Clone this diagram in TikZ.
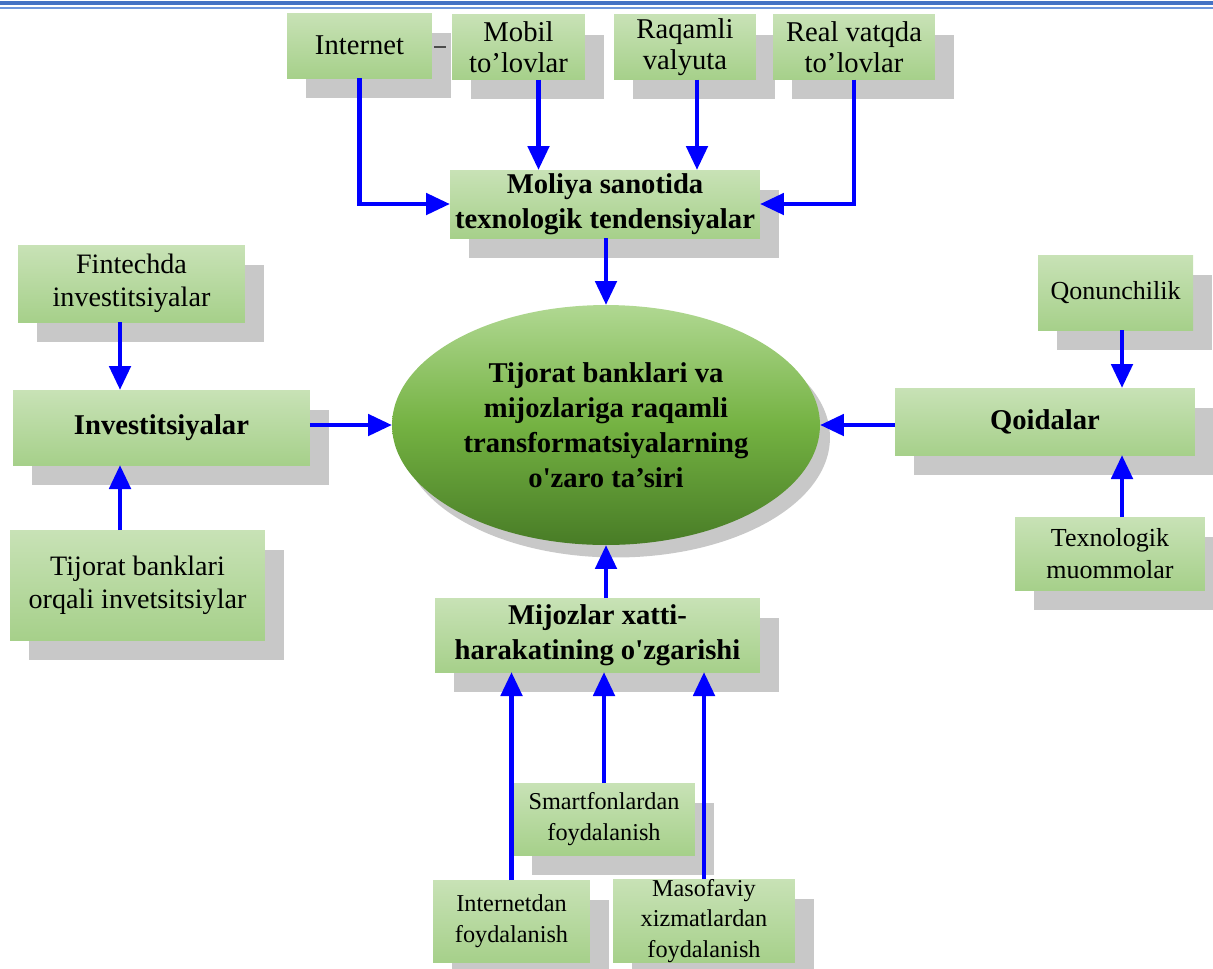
\documentclass[tikz,border=0pt]{standalone}
\usepackage{fontspec}
\setmainfont{Liberation Serif}
\usetikzlibrary{arrows.meta,shapes.geometric,shadows}
\definecolor{gtop}{RGB}{200,226,182}
\definecolor{gbot}{RGB}{166,208,138}
\definecolor{elltop}{RGB}{176,216,146}
\definecolor{ellmid}{RGB}{116,178,66}
\definecolor{ellbot}{RGB}{72,124,38}
\definecolor{shade}{RGB}{200,200,200}
\definecolor{hdr}{RGB}{68,114,196}
\definecolor{hdrlight}{RGB}{110,150,220}
\tikzset{
  gbox/.style={rectangle,inner sep=0pt,outer sep=0pt,align=center,
    top color=gtop,bottom color=gbot,
    drop shadow={shadow xshift=0.38cm,shadow yshift=-0.4cm,fill=shade,opacity=1}},
  rtxt/.style={font=\fontsize{16}{19}\selectfont},
  mtxt/.style={font=\fontsize{14.8}{18.5}\selectfont},
  ttxt/.style={font=\fontsize{16.3}{17.5}\selectfont},
  stxt/.style={font=\fontsize{13.8}{17.5}\selectfont},
  btxt/.style={font=\fontsize{16.3}{20}\selectfont\bfseries},
  arr/.style={draw=blue,line width=2.8pt,-{Triangle[length=0.48cm,width=0.42cm]}}
}
\newcommand{\gbox}[6]{\node[gbox,#6,minimum width=#3cm,minimum height=#4cm] (#1) at (#2) {#5};}

\begin{document}
\begin{tikzpicture}[x=0.02cm,y=-0.02cm]
	\useasboundingbox (0,0) rectangle (1213,968);
	\fill[hdr] (0,1) rectangle (1213,5);
	\fill[hdrlight] (0,7) rectangle (1213,9);
	% top row
	\gbox{inet}{359.5,45.5}{2.9}{1.3}{Internet}{ttxt}
	\gbox{mobil}{518.5,47}{2.66}{1.3}{Mobil\\to’lovlar}{ttxt}
	\gbox{raqam}{685,47}{2.84}{1.3}{Raqamli\\valyuta}{ttxt}
	\gbox{real}{854,47}{3.24}{1.3}{Real vatqda\\to’lovlar}{ttxt}
	\draw[black!70,line width=1.6pt] ([xshift=0.04cm]inet.east |- 0,47) -- ([xshift=-0.12cm]mobil.west |- 0,47);
	\gbox{moliya}{605,204}{6.2}{1.36}{Moliya sanotida\\texnologik tendensiyalar}{btxt}
	% centre
	\node[ellipse,inner sep=0pt,outer sep=0pt,minimum width=8.56cm,minimum height=4.8cm,align=center,
	  top color=elltop,bottom color=ellbot,middle color=ellmid,btxt,
	  drop shadow={shadow xshift=0.2cm,shadow yshift=-0.25cm,fill=shade,opacity=1}]
	  (ell) at (606,425) {Tijorat banklari va\\mijozlariga raqamli\\transformatsiyalarning\\o\textquotesingle zaro ta’siri};
	% left
	\gbox{fintech}{131.5,283.5}{4.54}{1.54}{Fintechda\\investitsiyalar}{rtxt}
	\gbox{invest}{161.5,427.5}{5.94}{1.5}{Investitsiyalar}{btxt}
	\gbox{tijorat}{137.5,585}{5.1}{2.2}{Tijorat banklari\\orqali invetsitsiylar}{rtxt}
	% right
	\gbox{qonun}{1115.5,292.5}{3.1}{1.5}{Qonunchilik}{mtxt}
	\gbox{qoida}{1045,421.5}{6.0}{1.34}{Qoidalar}{btxt}
	\gbox{texno}{1110,553.5}{3.8}{1.46}{Texnologik\\muommolar}{mtxt}
	% bottom
	\gbox{mijoz}{597.5,635}{6.5}{1.48}{Mijozlar xatti-\\harakatining o\textquotesingle zgarishi}{btxt}
	\gbox{smart}{604,819}{3.64}{1.44}{Smartfonlardan\\foydalanish}{stxt}
	\gbox{inetf}{511.5,921}{3.14}{1.64}{Internetdan\\foydalanish}{stxt}
	\gbox{masof}{704,921}{3.64}{1.64}{Masofaviy\\xizmatlardan\\foydalanish}{stxt}
	% arrows
	\draw[arr] (inet.south) |- (moliya.west);
	\draw[arr] (real.south) |- (moliya.east);
	\draw[arr] ([xshift=0.4cm]mobil.south) -- ([xshift=0.4cm]mobil.south |- moliya.north);
	\draw[arr] ([xshift=0.24cm]raqam.south) -- ([xshift=0.24cm]raqam.south |- moliya.north);
	\draw[arr] (moliya.south -| ell.north) -- (ell.north);
	\draw[arr] (fintech.south -| 120,0) -- (invest.north -| 120,0);
	\draw[arr] (tijorat.north -| 120,0) -- (invest.south -| 120,0);
	\draw[arr] (ell.west -| invest.east) -- (ell.west);
	\draw[arr] (qonun.south -| 1122,0) -- (qoida.north -| 1122,0);
	\draw[arr] (texno.north -| 1122,0) -- (qoida.south -| 1122,0);
	\draw[arr] (ell.east -| qoida.west) -- (ell.east);
	\draw[arr] (mijoz.north -| ell.south) -- (ell.south);
	\draw[arr] (smart.north) -- (smart.north |- mijoz.south);
	\draw[arr] (inetf.north) -- (inetf.north |- mijoz.south);
	\draw[arr] (masof.north) -- (masof.north |- mijoz.south);
\end{tikzpicture}
\end{document}
